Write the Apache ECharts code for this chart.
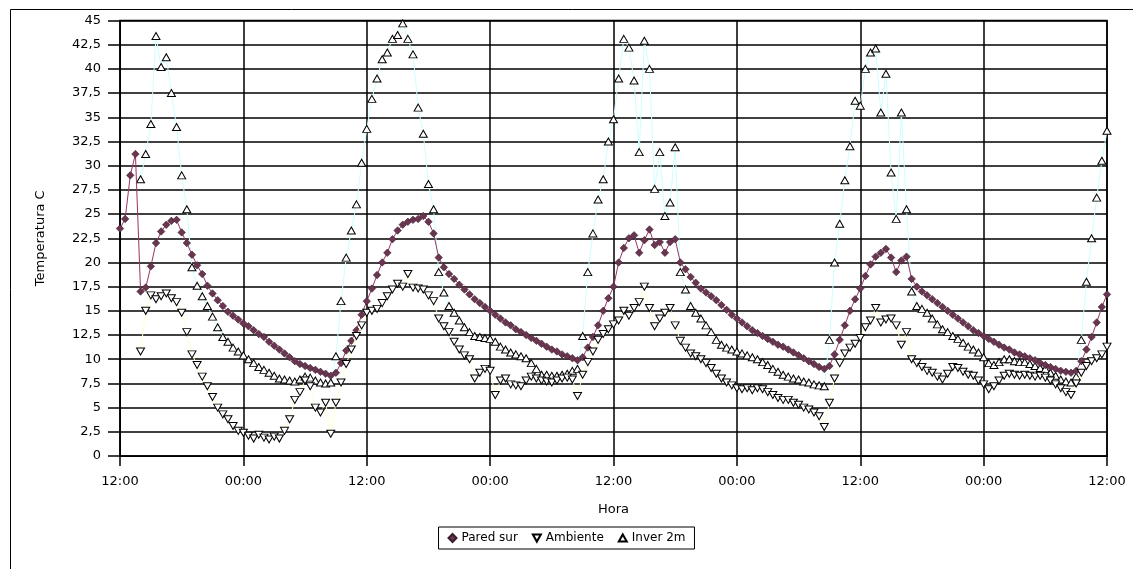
<!DOCTYPE html>
<html>
<head>
<meta charset="utf-8">
<script src="https://cdn.jsdelivr.net/npm/echarts@6/dist/echarts.min.js"></script>
<style>
html,body{margin:0;padding:0;background:#fff;}
#chart{width:1133px;height:569px;}
</style>
</head>
<body>
<div id="chart"></div>
<script>
// Time in hours since the first 12:00, one sample every 30 minutes
var stepHours = 0.5;
var xTickLabels = ['12:00','00:00','12:00','00:00','12:00','00:00','12:00','00:00','12:00'];

var paredSur = [
23.5,24.5,29,31.2,17,17.4,19.6,22,23.2,23.9,24.3,24.4,23.1,22,20.8,19.7,18.8,17.6,16.8,16.1,15.5,14.9,14.5,14.1,
13.7,13.4,13,12.6,12.3,11.8,11.4,11,10.6,10.2,9.8,9.5,9.3,9.1,8.9,8.7,8.5,8.3,8.6,9.6,10.9,11.9,13,14.6,
16,17.3,18.7,20,21,22.4,23.3,23.9,24.2,24.4,24.5,24.8,24.2,23,20.5,19.5,18.8,18.3,17.7,17.2,16.7,16.2,15.8,15.4,
15,14.6,14.2,13.8,13.5,13.1,12.8,12.5,12.2,11.9,11.6,11.3,11,10.8,10.5,10.3,10.1,9.9,10.2,11.2,12.3,13.5,15,16.3,
17.5,20,21.5,22.5,22.8,21,22.3,23.4,21.8,22.1,21,22.1,22.4,20,19.3,18.5,17.9,17.3,16.9,16.5,16.1,15.6,15.1,14.6,
14.2,13.8,13.4,13,12.7,12.4,12.1,11.8,11.5,11.3,11,10.7,10.4,10.1,9.8,9.5,9.2,9,9.3,10.5,12,13.5,15,16.2,
17.3,18.6,19.8,20.6,21,21.4,20.5,19,20.2,20.6,18.3,17.5,17,16.6,16.2,15.8,15.4,15,14.6,14.2,13.8,13.4,13,12.7,
12.4,12.1,11.8,11.5,11.2,11,10.7,10.5,10.3,10.1,9.9,9.6,9.4,9.2,9,8.8,8.7,8.6,8.8,9.8,11,12.3,13.8,15.4,
16.7
];

var ambiente = [
null,null,null,null,10.8,15,16.6,16.2,16.5,16.8,16.3,15.9,14.8,12.8,10.5,9.4,8.2,7.2,6.1,5,4.3,3.8,3.1,2.6,
2.4,2.1,1.8,2.2,1.9,1.7,2,1.8,2.6,3.8,5.8,6.6,7.8,7.2,5,4.5,5.5,2.3,5.5,7.6,9.5,11,12.4,13.5,
14.8,15,15.2,15.8,16.5,17.2,17.8,17.5,18.8,17.4,17.3,17.2,16.6,16,14.2,13.4,12.8,11.8,11,10.4,10,8,8.6,9,
8.8,6.3,7.8,8,7.4,7.3,7.2,7.8,8.2,8,7.8,7.7,7.6,7.8,8,8.1,7.9,6.2,8.4,9.7,10.8,12,12.6,13.1,
13.6,14,15,14.5,15.3,15.9,17.5,15.3,13.4,14.2,14.8,15.3,13.5,11.9,11.2,10.6,10.3,10,9.6,9.1,8.5,8,7.6,7.3,
7,6.9,7,6.8,7,6.9,6.6,6.3,6,5.8,5.8,5.5,5.3,5,4.8,4.5,4.1,3,5.5,8,9.6,10.6,11.2,11.6,
12.2,13.3,14,15.3,13.8,14.1,14.2,13.5,11.5,12.8,10,9.6,9.2,8.8,8.6,8.2,7.9,8.5,9.2,9.1,8.7,8.4,8.3,7.8,
7.4,6.9,7.2,7.8,8.3,8.5,8.4,8.3,8.4,8.3,8.2,8.3,8.1,7.8,7.4,7,6.6,6.3,7.5,8.6,9.3,9.8,10.1,10.5,
11.3
];

var inver2m = [
null,null,null,null,28.6,31.2,34.3,43.4,40.2,41.2,37.5,34,29,25.5,19.5,17.6,16.5,15.5,14.4,13.3,12.3,11.8,11.2,10.8,
10.4,10,9.6,9.2,8.9,8.6,8.3,8,7.9,7.8,7.7,7.9,8.2,8.1,7.8,7.6,7.5,7.6,10.3,16,20.5,23.3,26,30.3,
33.8,36.9,39,41,41.7,43.1,43.5,44.7,43.1,41.5,36,33.3,28.1,25.5,19,16.9,15.5,14.8,14,13.3,12.8,12.4,12.3,12.2,
12.1,11.8,11.3,11,10.7,10.5,10.3,10.1,9.6,9,8.4,8.4,8.3,8.3,8.4,8.5,8.8,9,12.4,19,23,26.5,28.6,32.5,
34.8,39,43.1,42.2,38.8,31.4,42.9,40,27.6,31.4,24.8,26.2,31.9,19,17.2,15.5,14.8,14.2,13.5,12.8,12,11.5,11.2,11,
10.8,10.6,10.4,10.2,10,9.7,9.4,9,8.7,8.4,8.2,8,7.9,7.7,7.6,7.4,7.3,7.2,12,20,24,28.5,32,36.7,
36.2,40,41.7,42.1,35.5,39.5,29.3,24.5,35.5,25.5,17,15.5,15.2,14.8,14.2,13.6,13.1,12.8,12.4,12.1,11.7,11.3,11,10.7,
10.2,9.6,9.4,9.7,10,10,9.8,9.7,9.7,9.5,9.3,9.1,9,8.6,8.3,7.9,7.7,7.6,8.2,12,18,22.5,26.7,30.5,
33.6
];

function pairs(values){
  return values.map(function(v,i){ return [i*stepHours, v]; });
}

var FONT = 'DejaVu Sans';
var chart = echarts.init(document.getElementById('chart'), null, {renderer:'canvas'});
chart.setOption({
  animation:false,
  backgroundColor:'#fff',
  textStyle:{fontFamily:FONT, color:'#000'},
  graphic:[{
    type:'rect', left:8, top:7, silent:true,
    shape:{width:1140, height:580},
    style:{fill:'none', stroke:'#000', lineWidth:1}
  }],
  grid:{left:120, right:26, top:20.5, bottom:113, show:true, borderColor:'#000', borderWidth:1.5, backgroundColor:'#fff'},
  legend:{
    left:'center', top:527,
    orient:'horizontal',
    borderColor:'#000', borderWidth:1, padding:[5,9],
    itemWidth:8, itemHeight:8, itemGap:14,
    textStyle:{fontFamily:FONT, fontSize:12, color:'#000'},
    data:[
      {name:'Pared sur', icon:'diamond'},
      {name:'Ambiente', icon:'path://M0,0L10,0L5,9Z'},
      {name:'Inver 2m', icon:'path://M5,0L10,9L0,9Z'}
    ]
  },
  xAxis:{
    type:'value', min:0, max:96, interval:12,
    name:'Hora', nameLocation:'middle', nameGap:47,
    nameTextStyle:{fontFamily:FONT, fontSize:13, color:'#000'},
    axisLine:{lineStyle:{color:'#000', width:1}},
    axisTick:{show:true, length:10, inside:false, lineStyle:{color:'#000', width:1.5}},
    axisLabel:{fontFamily:FONT, fontSize:13, color:'#000', margin:19,
      formatter:function(v){ return xTickLabels[Math.round(v/12)]; }},
    splitLine:{show:true, lineStyle:{color:'#000', width:1.5}}
  },
  yAxis:{
    type:'value', min:0, max:45, interval:2.5,
    name:'Temperatura C', nameLocation:'middle', nameGap:73, nameRotate:90,
    nameTextStyle:{fontFamily:FONT, fontSize:13, color:'#000'},
    axisLine:{show:true, lineStyle:{color:'#000', width:1}},
    axisTick:{show:true, length:12, inside:false, lineStyle:{color:'#000', width:1.5}},
    axisLabel:{fontFamily:FONT, fontSize:13, color:'#000', margin:19,
      formatter:function(v){ return String(v).replace('.', ','); }},
    splitLine:{show:true, lineStyle:{color:'#000', width:1.5}}
  },
  series:[
    {
      name:'Pared sur', type:'line', data:pairs(paredSur),
      symbol:'diamond', symbolSize:7.5, showAllSymbol:true,
      lineStyle:{color:'#993366', width:1},
      itemStyle:{color:'#6a3550', borderColor:'#3a1d2b', borderWidth:0.6},
      z:3
    },
    {
      name:'Ambiente', type:'line', data:pairs(ambiente),
      symbol:'triangle', symbolRotate:180, symbolSize:[8,7], showAllSymbol:true,
      lineStyle:{color:'#FFFFCC', width:1},
      itemStyle:{color:'#fff', borderColor:'#000', borderWidth:1},
      z:4
    },
    {
      name:'Inver 2m', type:'line', data:pairs(inver2m),
      symbol:'triangle', symbolSize:[8,7], showAllSymbol:true,
      lineStyle:{color:'#CCFFFF', width:1},
      itemStyle:{color:'#fff', borderColor:'#000', borderWidth:1},
      z:2
    }
  ]
});
</script>
</body>
</html>
